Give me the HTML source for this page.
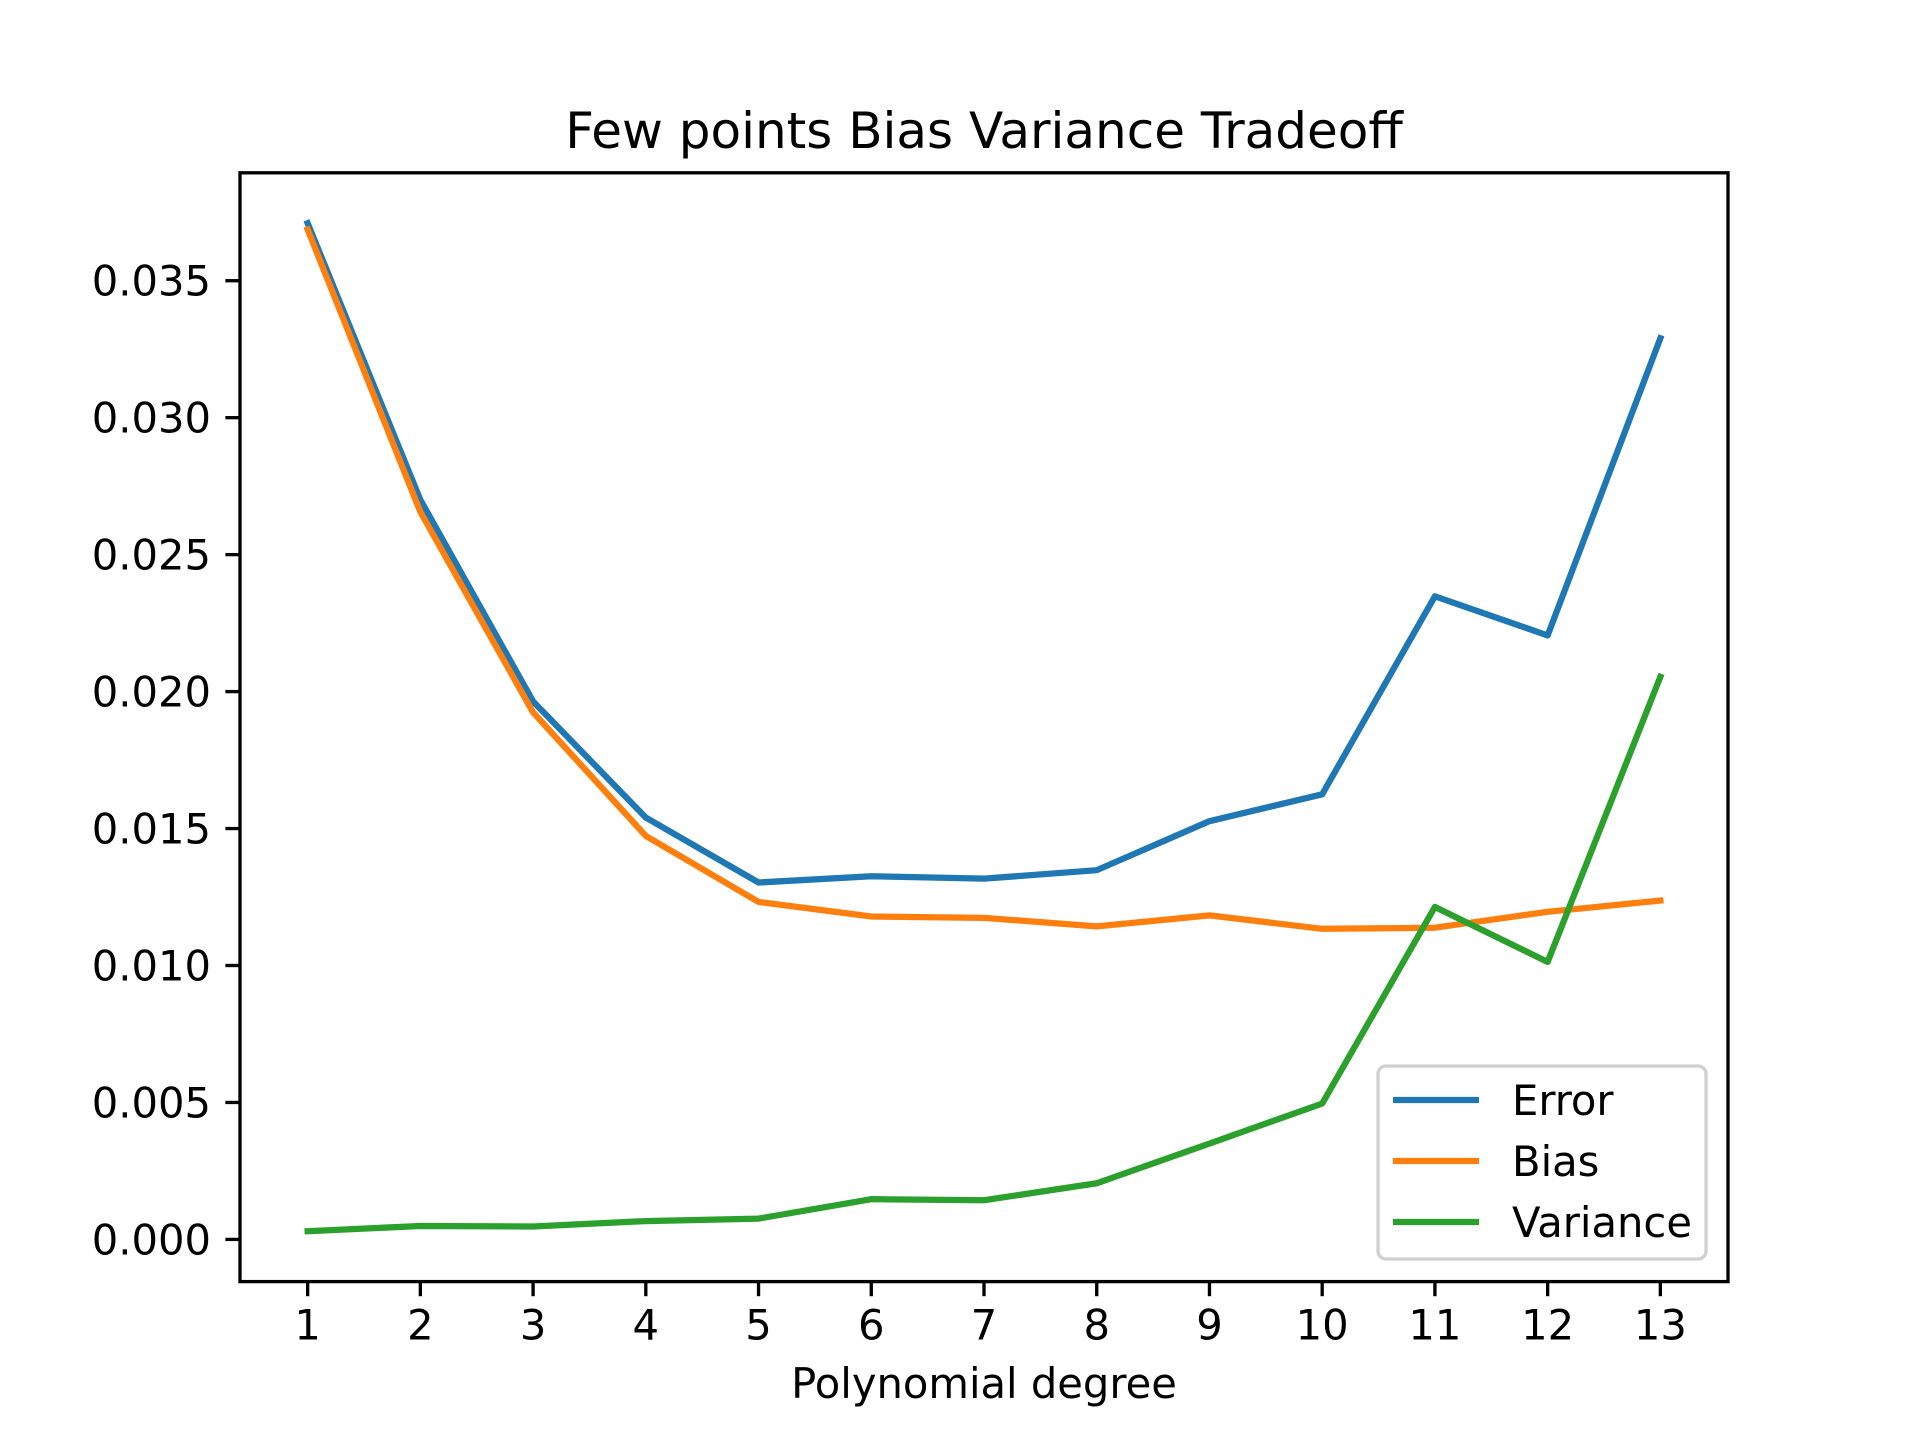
<!DOCTYPE html>
<html><head><meta charset="utf-8"><style>html,body{margin:0;padding:0;background:#fff}svg{display:block}text{font-family:"DejaVu Sans","Liberation Sans",sans-serif;fill:#000}</style></head>
<body>
<svg id="chart" width="1920" height="1440" xmlns="http://www.w3.org/2000/svg">
<text x="984" y="148" font-size="50" text-anchor="middle">Few points Bias Variance Tradeoff</text>
<text x="984" y="1398" font-size="41.67" text-anchor="middle">Polynomial degree</text>
<g id="plot"></g>
</svg>
<script>
const degrees=[1,2,3,4,5,6,7,8,9,10,11,12,13];
const errorVals=[0.0371,0.0270,0.01964,0.0154,0.01303,0.01326,0.01317,0.01348,0.01527,0.01625,0.02348,0.02205,0.0329];
const biasVals=[0.03687,0.02656,0.01924,0.01473,0.01232,0.01179,0.01174,0.01143,0.01183,0.01134,0.01138,0.01196,0.01237];
const varianceVals=[0.0003,0.00049,0.00047,0.00067,0.00076,0.00147,0.00143,0.00205,0.0035,0.00496,0.01214,0.01013,0.02054];
const yTicks=[0,0.005,0.010,0.015,0.020,0.025,0.030,0.035];
const yTickLabels=["0.000","0.005","0.010","0.015","0.020","0.025","0.030","0.035"];
const seriesNames=["Error","Bias","Variance"];
const NS="http://www.w3.org/2000/svg";
const L=240,R=1728,T=172.8,B=1281.6;
const xmin=0.4,xmax=13.6;
const allV=errorVals.concat(biasVals,varianceVals);
const dmin=Math.min(...allV),dmax=Math.max(...allV),m=(dmax-dmin)*0.05;
const ymin=dmin-m,ymax=dmax+m;
const xs=v=>L+(v-xmin)/(xmax-xmin)*(R-L);
const ys=v=>B-(v-ymin)/(ymax-ymin)*(B-T);
const g=document.getElementById('plot');
function mk(t,a){const e=document.createElementNS(NS,t);for(const k in a)e.setAttribute(k,a[k]);g.appendChild(e);return e;}
const colors=["#1f77b4","#ff7f0e","#2ca02c"];
[errorVals,biasVals,varianceVals].forEach((s,i)=>{
  const p=mk('polyline',{points:s.map((v,j)=>xs(degrees[j])+','+ys(v)).join(' '),fill:'none',stroke:colors[i],'stroke-width':6.25,'stroke-linejoin':'round','stroke-linecap':'square'});
  
  
});
const frame=mk('rect',{x:L,y:T,width:R-L,height:B-T,fill:'none',stroke:'#000','stroke-width':3.33});


degrees.forEach(d=>{
  const x=xs(d);
  const tk=mk('line',{x1:x,x2:x,y1:B,y2:B+14.6,stroke:'#000','stroke-width':3.33});
  
  
  const t=mk('text',{x:x,y:B+58,'font-size':41.67,'text-anchor':'middle'});
  t.textContent=d;
  
  
});
yTicks.forEach((v,i)=>{
  const y=ys(v);
  const tk=mk('line',{x1:L-14.6,x2:L,y1:y,y2:y,stroke:'#000','stroke-width':3.33});
  
  
  const t=mk('text',{x:L-29,y:y+15,'font-size':41.67,'text-anchor':'end'});
  t.textContent=yTickLabels[i];
  
  
});
const lg=mk('rect',{x:1378,y:1066,width:328,height:193,rx:8,fill:'#fff','fill-opacity':0.8,stroke:'#d0d0d0','stroke-width':3.33});


seriesNames.forEach((n,i)=>{
  const y=1100+i*61;
  const ln=mk('line',{x1:1393,x2:1479,y1:y,y2:y,stroke:colors[i],'stroke-width':6.25});
  
  
  const t=mk('text',{x:1512,y:y+15,'font-size':41.67});
  t.textContent=n;
  
  
});
</script>
</body></html>
